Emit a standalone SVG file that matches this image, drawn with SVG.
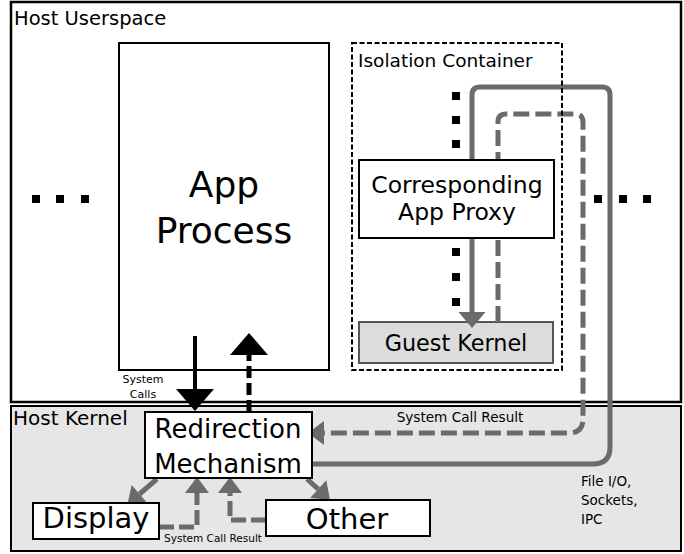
<svg xmlns="http://www.w3.org/2000/svg" width="684" height="554" viewBox="0 0 684 554">
<style>
text{font-family:"DejaVu Sans","Liberation Sans",sans-serif;fill:#000}
.box{fill:#fff;stroke:#000;stroke-width:2}
.gs{fill:none;stroke:#6b6b6b;stroke-width:5}
.gd{fill:none;stroke:#6b6b6b;stroke-width:5;stroke-dasharray:16 6}
.gd2{fill:none;stroke:#6b6b6b;stroke-width:5;stroke-dasharray:15 5}
.dot{fill:#000}
</style>
<defs>
<marker id="ga" markerUnits="userSpaceOnUse" markerWidth="16" markerHeight="24" viewBox="0 0 16 24" refX="0" refY="12" orient="auto" overflow="visible">
<path d="M0,0 L16,12 L0,24 z" fill="#6b6b6b"/>
</marker>
<marker id="gb" markerUnits="userSpaceOnUse" markerWidth="16" markerHeight="27" viewBox="0 0 16 27" refX="0" refY="13.5" orient="auto" overflow="visible">
<path d="M0,0 L16,13.5 L0,27 z" fill="#6b6b6b"/>
</marker>
<marker id="ba" markerUnits="userSpaceOnUse" markerWidth="22" markerHeight="38" viewBox="0 0 22 38" refX="0" refY="19" orient="auto" overflow="visible">
<path d="M0,0 L22,19 L0,38 z" fill="#000"/>
</marker>
</defs>

<g id="host-userspace">
<rect x="11" y="2" width="670" height="400" fill="#fff" stroke="#000" stroke-width="2.5"/>
<text x="14" y="25" font-size="19.5">Host Userspace</text>
</g>
<g id="host-kernel">
<rect x="11" y="406" width="670" height="145" fill="#e6e6e6" stroke="#000" stroke-width="2"/>
<text x="13" y="425" font-size="20">Host Kernel</text>
</g>

<g id="dots-left">
<rect class="dot" x="32" y="195" width="8" height="8"/>
<rect class="dot" x="56" y="195" width="8" height="8"/>
<rect class="dot" x="81" y="195" width="8" height="8"/>
</g>
<g id="dots-right">
<rect class="dot" x="594" y="195" width="8" height="8"/>
<rect class="dot" x="619" y="195" width="8" height="8"/>
<rect class="dot" x="643" y="195" width="8" height="8"/>
</g>

<g id="app-process">
<rect class="box" x="119" y="43" width="210" height="327"/>
<text x="224" y="197" font-size="36" text-anchor="middle">App</text>
<text x="224" y="243" font-size="36" text-anchor="middle">Process</text>
</g>

<g id="guest-kernel">
<rect x="359" y="322" width="194" height="41" fill="#dcdcdc" stroke="#555" stroke-width="2"/>
<text x="456" y="351" font-size="22.3" text-anchor="middle">Guest Kernel</text>
</g>

<g id="dots-container">
<rect class="dot" x="452" y="92" width="8" height="8"/>
<rect class="dot" x="452" y="116" width="8" height="8"/>
<rect class="dot" x="452" y="140" width="8" height="8"/>
<rect class="dot" x="452" y="248" width="8" height="8"/>
<rect class="dot" x="452" y="273" width="8" height="8"/>
<rect class="dot" x="452" y="298" width="8" height="8"/>
</g>

<g id="connectors">
<path class="gs" d="M313,464 H593 Q610,464 610,447 V95 Q610,87 602,87 H480 Q472,87 472,95 V312" marker-end="url(#gb)"/>
<path class="gd" d="M498,322 V122 Q498,114 506,114 H575 Q583,114 583,122 V419 Q583,433 569,433 H324" marker-end="url(#ga)"/>
<line x1="195" y1="336" x2="195" y2="389" stroke="#000" stroke-width="4" marker-end="url(#ba)"/>
<line x1="249" y1="412" x2="249" y2="355" stroke="#000" stroke-width="5" stroke-dasharray="12 5" marker-end="url(#ba)"/>
<line x1="157" y1="479" x2="139.5" y2="494" class="gs" marker-end="url(#ga)"/>
<line x1="307" y1="479" x2="318.2" y2="489.2" class="gs" marker-end="url(#ga)"/>
<path class="gd2" d="M159,527 H197 V493" marker-end="url(#ga)"/>
<path class="gd2" d="M266,520 H230 V493" marker-end="url(#ga)"/>
<text x="143" y="383" font-size="11" text-anchor="middle">System</text>
<text x="143" y="398" font-size="11" text-anchor="middle">Calls</text>
<text x="460" y="422" font-size="13.6" text-anchor="middle">System Call Result</text>
<text x="213" y="542" font-size="10.5" text-anchor="middle">System Call Result</text>
<text x="581" y="486" font-size="13.5">File I/O,</text>
<text x="581" y="505" font-size="13.5">Sockets,</text>
<text x="581" y="524" font-size="13.5">IPC</text>
</g>

<g id="app-proxy">
<rect class="box" x="359" y="160" width="195" height="78" stroke-width="1.5"/>
<text x="457" y="193" font-size="23.5" text-anchor="middle">Corresponding</text>
<text x="457" y="220" font-size="23.5" text-anchor="middle">App Proxy</text>
</g>

<g id="isolation-container">
<rect x="352" y="43" width="210" height="327" fill="none" stroke="#000" stroke-width="2" stroke-dasharray="5 2.5"/>
<text x="358" y="67" font-size="18.5">Isolation Container</text>
</g>

<g id="redirection-mechanism">
<rect class="box" x="145" y="412" width="167" height="66"/>
<text x="228" y="438" font-size="26" text-anchor="middle">Redirection</text>
<text x="228" y="473" font-size="26" text-anchor="middle">Mechanism</text>
</g>

<g id="display">
<rect class="box" x="33" y="503" width="126" height="36"/>
<text x="96" y="528" font-size="29" text-anchor="middle">Display</text>
</g>

<g id="other">
<rect class="box" x="266" y="500" width="164" height="36"/>
<text x="347" y="529" font-size="29" text-anchor="middle">Other</text>
</g>
</svg>
